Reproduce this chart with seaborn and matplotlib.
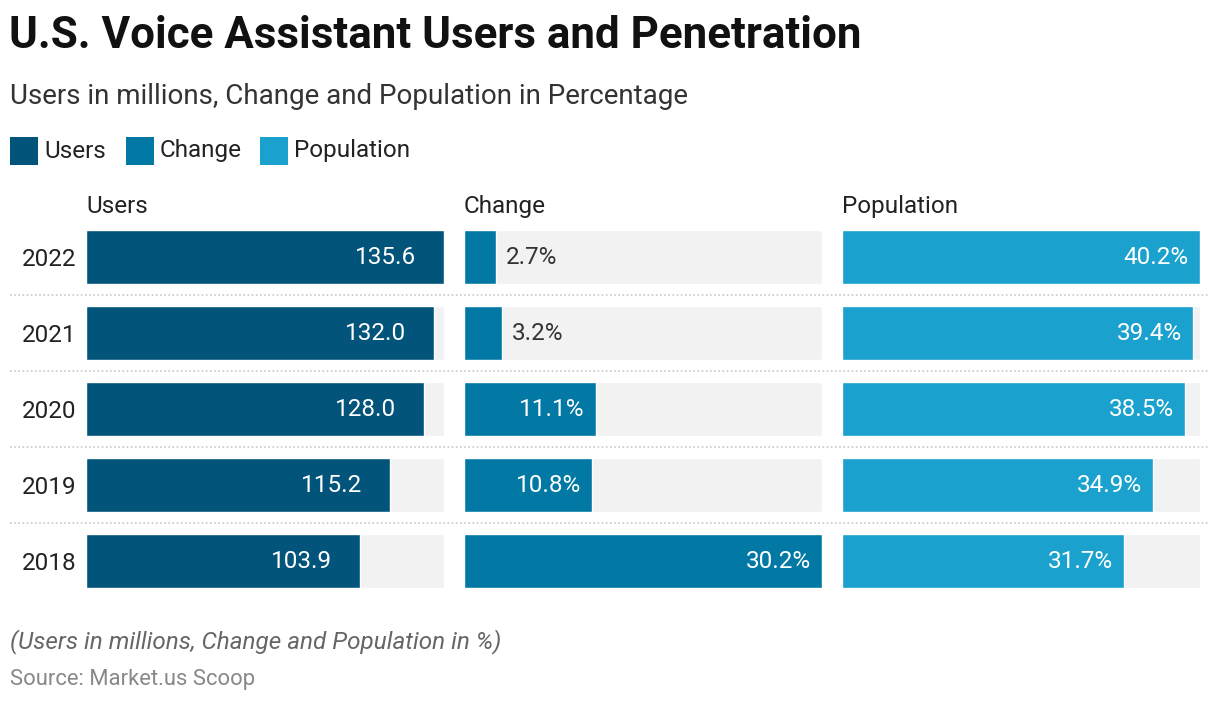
import numpy as np
import pandas as pd
import matplotlib.pyplot as plt
import matplotlib.transforms as mtransforms
from matplotlib.patches import Rectangle
from matplotlib.lines import Line2D
import seaborn as sns

sns.set_theme(style="white")
plt.rcParams['font.family'] = ['Roboto', 'DejaVu Sans']

# data
years = ["2022", "2021", "2020", "2019", "2018"]
users = [135.6, 132.0, 128.0, 115.2, 103.9]
change = [2.7, 3.2, 11.1, 10.8, 30.2]
population = [40.2, 39.4, 38.5, 34.9, 31.7]

metrics = ["Users", "Change", "Population"]
colors = ["#02547a", "#0278a4", "#1aa1cd"]

df = pd.DataFrame({"year": years, "Users": users, "Change": change, "Population": population})

W, H = 1220, 704
fig = plt.figure(figsize=(W / 100, H / 100), dpi=100)
fig.patch.set_facecolor("white")

def fx(px):
    return px / W

def fy(py):
    return 1 - py / H

# titles
fig.text(fx(9), fy(36), "U.S. Voice Assistant Users and Penetration", fontsize=31.6,
         fontweight="bold", color="#111111", va="center", ha="left")
fig.text(fx(10), fy(97), "Users in millions, Change and Population in Percentage", fontsize=20,
         color="#333333", va="center", ha="left")

# legend
leg_x = [10, 126, 260]
for lx, name, c in zip(leg_x, metrics, colors):
    fig.patches.append(Rectangle((fx(lx), fy(165)), fx(28), 28 / H, transform=fig.transFigure,
                                 facecolor=c, edgecolor="none"))
    fig.text(fx(lx + 34), fy(151), name, fontsize=17.5, color="#222222", va="center", ha="left")

# panels
panel_left = [86, 464, 842]
panel_w = 358
top, bottom = 230, 588
bar_w = 54 / 76
half = bar_w / 2
inner_pad = {"Users": 28, "Change": 11, "Population": 11}

axes = []
for i, (m, c, left) in enumerate(zip(metrics, colors, panel_left)):
    ax = fig.add_axes([fx(left), fy(bottom), fx(panel_w), (bottom - top) / H])
    ax.patch.set_alpha(0)
    vmax = df[m].max()
    track = pd.DataFrame({"year": years, "v": [vmax] * len(years)})
    sns.barplot(data=track, y="year", x="v", orient="h", color="#f2f2f2", width=bar_w,
                saturation=1, ax=ax, order=years)
    sns.barplot(data=df, y="year", x=m, orient="h", color=c, width=bar_w,
                saturation=1, ax=ax, order=years)
    ax.set_xlim(0, vmax)
    ax.set_ylim(len(years) - 1 + half, -half)
    ax.set_xlabel("")
    ax.set_ylabel("")
    ax.set_xticks([])
    sns.despine(ax=ax, left=True, bottom=True)
    if i == 0:
        ax.tick_params(axis="y", length=0, pad=7, labelsize=17.5, labelcolor="#222222")
    else:
        ax.set_yticks([])
    fig.text(fx(left), fy(207), m, fontsize=17.5, color="#222222", va="center", ha="left")

    suffix = "" if m == "Users" else "%"
    px_per_unit = panel_w / vmax
    for j, v in enumerate(df[m]):
        label = f"{v:.1f}{suffix}"
        if v / vmax > 0.2:
            ax.text(v - inner_pad[m] / px_per_unit, j, label, ha="right", va="center",
                    color="white", fontsize=17.5)
        else:
            ax.text(v + 10 / px_per_unit, j, label, ha="left", va="center",
                    color="#333333", fontsize=17.5)
    axes.append(ax)

# dotted row separators across the whole width
ax0 = axes[0]
trans = mtransforms.blended_transform_factory(fig.transFigure, ax0.transData)
for j in range(len(years) - 1):
    fig.add_artist(Line2D([fx(10), fx(1210)], [j + 0.5, j + 0.5], transform=trans,
                          color="#c8c8c8", linestyle=(0, (1, 1.5)), linewidth=1.2, zorder=5))

# footnotes
fig.text(fx(10), fy(642), "(Users in millions, Change and Population in %)", fontsize=17.5,
         style="italic", color="#666666", va="center", ha="left")
fig.text(fx(10), fy(679), "Source: Market.us Scoop", fontsize=15.8, color="#888888",
         va="center", ha="left")

fig.savefig("out.png", dpi=100, facecolor="white")
